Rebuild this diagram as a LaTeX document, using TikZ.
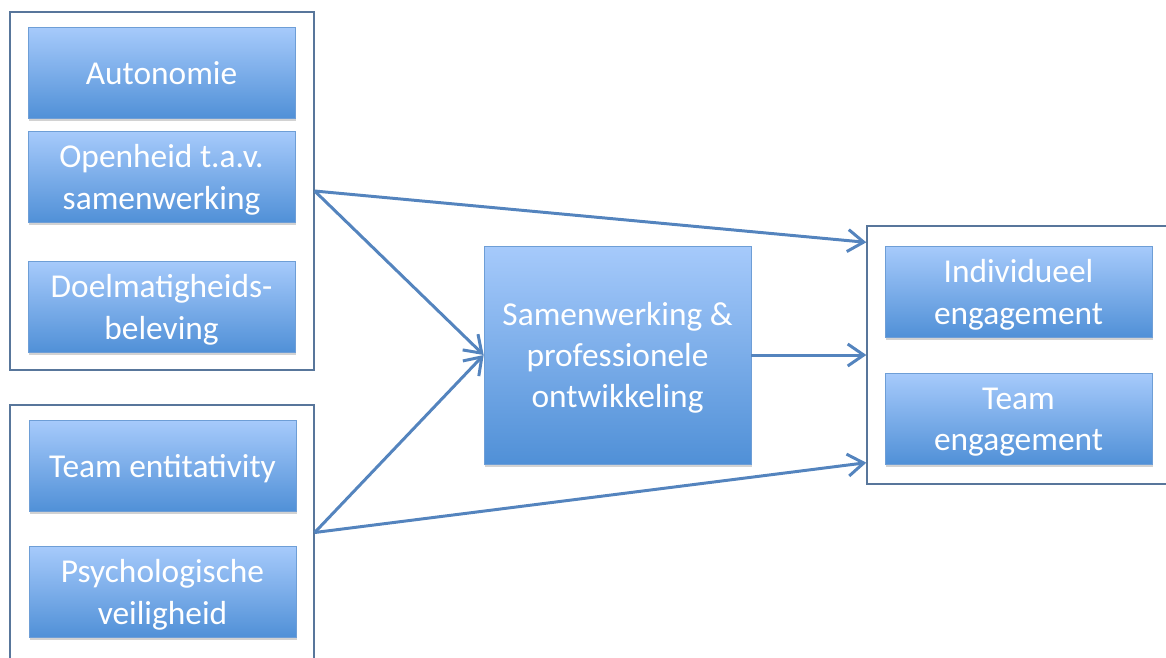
\documentclass[tikz,border=0pt]{standalone}
\usepackage{fontspec}
\setmainfont{Carlito}
\usetikzlibrary{arrows.meta,shadows}
\definecolor{boxtop}{RGB}{166,202,251}
\definecolor{boxbot}{RGB}{80,144,215}
\definecolor{boxline}{RGB}{110,158,214}
\definecolor{grpline}{RGB}{88,118,155}
\definecolor{arrline}{RGB}{84,132,190}
\begin{document}
\begin{tikzpicture}[x=0.02cm,y=-0.02cm,
  var/.style={draw=boxline,line width=0.4pt,top color=boxtop,bottom color=boxbot,
    drop shadow={opacity=0.35,shadow xshift=0.4pt,shadow yshift=-1.6pt},
    text=white,align=center,inner sep=0pt,text depth=-0.06cm,
    font=\fontsize{19}{23.5}\selectfont,
    minimum width=5.34cm,minimum height=1.82cm},
  grp/.style={draw=grpline,line width=0.8pt,fill=white,inner sep=0pt},
  link/.style={draw=arrline,line width=1.7pt,-{Straight Barb[length=3.2mm,width=4.4mm,line width=1.7pt]}}]
\useasboundingbox (0,0) rectangle (1166,657);
% groups
\node[grp,minimum width=6.08cm,minimum height=7.16cm] (ctx) at (162,191) {};
\node[grp,minimum width=6.08cm,minimum height=5.1cm] (team) at (162,532.5) {};
\node[grp,minimum width=6.16cm,minimum height=5.16cm] (out) at (1021,355) {};
% variables
\node[var] (auto) at (161.5,73) {Autonomie};
\node[var] (open) at (161.5,177) {Openheid t.a.v.\\samenwerking};
\node[var] (doel) at (161.5,307) {Doelmatigheids-\\beleving};
\node[var] (ent) at (162.5,466) {Team entitativity};
\node[var] (psy) at (162.5,592) {Psychologische\\veiligheid};
\node[var,minimum height=4.36cm] (mid) at (617.5,355) {Samenwerking \&\\professionele\\ontwikkeling};
\node[var] (ind) at (1018.5,292) {Individueel\\engagement};
\node[var] (teng) at (1018.5,419) {Team\\engagement};
% paths
\draw[link] (ctx.east) -- ([yshift=-0.34cm]out.north west);
\draw[link] (ctx.east) -- (mid.west);
\draw[link] (team.east) -- (mid.west);
\draw[link] (team.east) -- ([yshift=0.44cm]out.south west);
\draw[link] (mid.east) -- (out.west);
\end{tikzpicture}
\end{document}
